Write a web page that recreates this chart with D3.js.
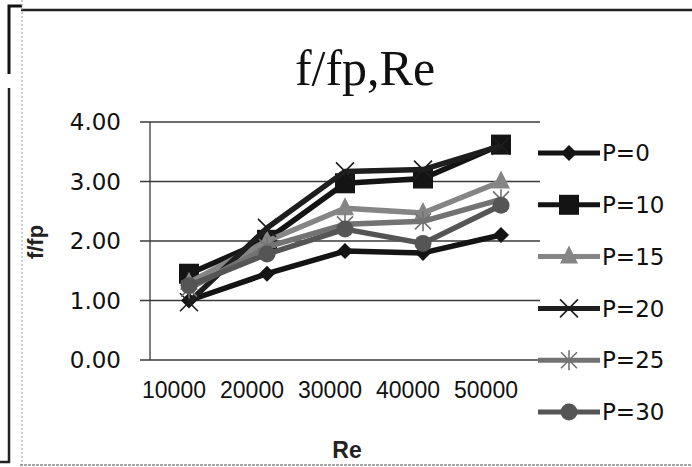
<!DOCTYPE html>
<html>
<head>
<meta charset="utf-8">
<script src="https://cdn.jsdelivr.net/npm/d3@7"></script>
<style>
  body { margin: 0; background: #fff; }
  svg { display: block; }
</style>
</head>
<body>
<figure id="chart_view" style="margin:0"></figure>
<script>
// Chart data
const categories = ["10000", "20000", "30000", "40000", "50000"];
const seriesNames = ["P=0", "P=10", "P=15", "P=20", "P=25", "P=30"];
const p0  = [1.00, 1.45, 1.83, 1.80, 2.10];
const p10 = [1.45, 2.02, 2.97, 3.05, 3.62];
const p15 = [1.30, 2.00, 2.55, 2.47, 3.00];
const p20 = [0.97, 2.22, 3.17, 3.20, 3.60];
const p25 = [1.20, 1.90, 2.28, 2.33, 2.70];
const p30 = [1.25, 1.78, 2.20, 1.96, 2.60];
const yTicks = [0, 1, 2, 3, 4];

const width = 692;
const height = 467;

const series = [
  { name: seriesNames[0], values: p0,  color: "#141414", symbol: "diamond" },
  { name: seriesNames[1], values: p10, color: "#141414", symbol: "square" },
  { name: seriesNames[2], values: p15, color: "#858585", symbol: "triangle" },
  { name: seriesNames[3], values: p20, color: "#1e1e1e", symbol: "x" },
  { name: seriesNames[4], values: p25, color: "#737373", symbol: "star" },
  { name: seriesNames[5], values: p30, color: "#555", symbol: "circle" }
];

const svg = d3.select("figure#chart_view")
  .append("svg")
  .attr("width", width)
  .attr("height", height)
  .attr("viewBox", [0, 0, width, height]);

// Scanned frame around the chart
const frame = svg.append("g").attr("fill", "none");
frame.append("path").attr("d", "M9,74V6H22").attr("stroke", "#111").attr("stroke-width", 3);
frame.append("line").attr("x1", 21).attr("x2", width).attr("y1", 10).attr("y2", 10)
  .attr("stroke", "#222").attr("stroke-width", 2.5);
frame.append("path").attr("d", "M9,88V462H0").attr("stroke", "#222").attr("stroke-width", 2.5);
frame.append("line").attr("x1", 22).attr("x2", 22).attr("y1", 0).attr("y2", height)
  .attr("stroke", "#999").attr("stroke-width", 1).attr("stroke-dasharray", "2,2");
frame.append("line").attr("x1", 20).attr("x2", width).attr("y1", 465).attr("y2", 465)
  .attr("stroke", "#888").attr("stroke-width", 1.5).attr("stroke-dasharray", "3,1");

// Title
svg.append("text")
  .attr("x", 365)
  .attr("y", 85)
  .attr("text-anchor", "middle")
  .attr("font-family", "'Liberation Serif', 'Times New Roman', serif")
  .attr("font-size", 50)
  .attr("fill", "#111")
  .text("f/fp,Re");

// Scales
const x = d3.scalePoint()
  .domain(categories)
  .range([150, 540])
  .padding(0.5);

const y = d3.scaleLinear()
  .domain([0, 4])
  .range([360, 122]);

// Gridlines with small outside ticks
svg.append("g")
  .selectAll("line")
  .data(yTicks)
  .join("line")
  .attr("x1", 140)
  .attr("x2", 540)
  .attr("y1", d => y(d))
  .attr("y2", d => y(d))
  .attr("stroke", "#3a3a3a")
  .attr("stroke-width", 1.3);

// Y axis line
svg.append("line")
  .attr("x1", 150).attr("x2", 150)
  .attr("y1", y(4)).attr("y2", y(0))
  .attr("stroke", "#3a3a3a")
  .attr("stroke-width", 1.3);

// Y tick labels
svg.append("g")
  .selectAll("text")
  .data(yTicks)
  .join("text")
  .attr("x", 121)
  .attr("y", d => y(d))
  .attr("dy", "0.36em")
  .attr("text-anchor", "end")
  .attr("font-family", "'DejaVu Sans', sans-serif")
  .attr("font-size", 23)
  .attr("fill", "#111")
  .text(d => d3.format(".2f")(d));

// X tick labels
svg.append("g")
  .selectAll("text")
  .data(categories)
  .join("text")
  .attr("x", d => x(d) - 15)
  .attr("y", 398)
  .attr("text-anchor", "middle")
  .attr("font-family", "'Liberation Sans', Arial, sans-serif")
  .attr("font-size", 23)
  .attr("fill", "#111")
  .text(d => d);

// Axis titles
svg.append("text")
  .attr("transform", "translate(43,242) rotate(-90)")
  .attr("text-anchor", "middle")
  .attr("font-family", "'Liberation Sans', Arial, sans-serif")
  .attr("font-weight", "bold")
  .attr("font-size", 22)
  .attr("fill", "#222")
  .text("f/fp");

svg.append("text")
  .attr("x", 347)
  .attr("y", 458)
  .attr("text-anchor", "middle")
  .attr("font-family", "'Liberation Sans', Arial, sans-serif")
  .attr("font-weight", "bold")
  .attr("font-size", 23)
  .attr("fill", "#222")
  .text("Re");

// Marker builder
function drawMarker(g, symbol, color) {
  if (symbol === "diamond") {
    g.append("path").attr("d", "M0,-8L8,0L0,8L-8,0Z").attr("fill", color);
  } else if (symbol === "square") {
    g.append("rect").attr("x", -10).attr("y", -10).attr("width", 20).attr("height", 20).attr("fill", color);
  } else if (symbol === "triangle") {
    g.append("path").attr("d", "M0,-11L9,7L-9,7Z").attr("fill", color);
  } else if (symbol === "x") {
    g.append("path").attr("d", "M-9,-9L9,9M-9,9L9,-9").attr("stroke", color).attr("stroke-width", 1.6);
  } else if (symbol === "star") {
    g.append("path").attr("d", "M-8,-8L8,8M-8,8L8,-8M0,-10V10")
      .attr("stroke", color).attr("stroke-width", 1.6);
  } else if (symbol === "circle") {
    g.append("circle").attr("r", 8.5).attr("fill", color);
  }
}

const line = d3.line()
  .x((d, i) => x(categories[i]))
  .y(d => y(d));

// Series lines and markers
const seriesG = svg.append("g")
  .selectAll("g")
  .data(series)
  .join("g");

seriesG.append("path")
  .attr("d", d => line(d.values))
  .attr("fill", "none")
  .attr("stroke", d => d.color)
  .attr("stroke-width", 5.5)
  .attr("stroke-linejoin", "round");

seriesG.each(function (s) {
  const g = d3.select(this);
  s.values.forEach((v, i) => {
    const m = g.append("g").attr("transform", `translate(${x(categories[i])},${y(v)})`);
    drawMarker(m, s.symbol, s.color);
  });
});

// Legend
const legend = svg.append("g")
  .selectAll("g")
  .data(series)
  .join("g")
  .attr("transform", (d, i) => `translate(538,${153 + i * 51.8})`);

legend.append("line")
  .attr("x1", 0).attr("x2", 62)
  .attr("y1", 0).attr("y2", 0)
  .attr("stroke", d => d.color)
  .attr("stroke-width", 5);

legend.each(function (s) {
  const m = d3.select(this).append("g").attr("transform", "translate(31,0)");
  drawMarker(m, s.symbol, s.color);
});

legend.append("text")
  .attr("x", 64)
  .attr("y", 0)
  .attr("dy", "0.36em")
  .attr("font-family", "'DejaVu Sans', sans-serif")
  .attr("font-size", 23)
  .attr("fill", "#111")
  .text(d => d.name);
</script>
</body>
</html>
